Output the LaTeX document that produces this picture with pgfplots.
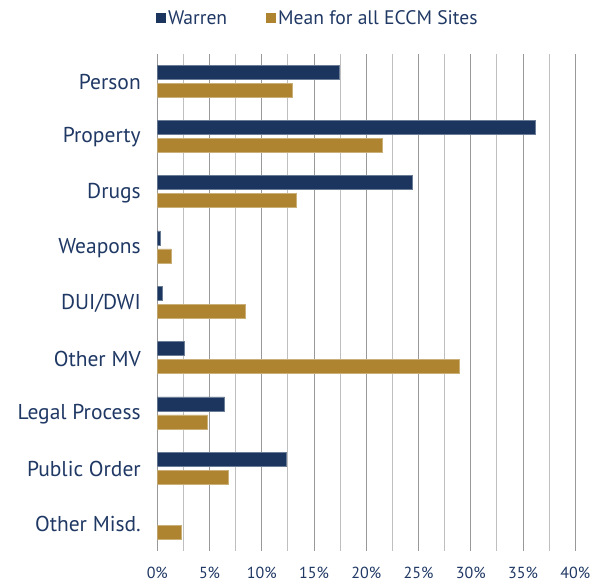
\documentclass[border=0pt]{standalone}
\usepackage{pgfplots}
\pgfplotsset{compat=1.18}
\usepackage{fontspec}
\setmainfont{PT Sans}
\definecolor{navy}{HTML}{1C355E}
\definecolor{gold}{HTML}{AE8430}
\definecolor{txt}{HTML}{1F3864}
\begin{document}
\begin{tikzpicture}
\useasboundingbox (-157.3pt,-32pt) rectangle (434.7pt,551pt);
\begin{axis}[
 scale only axis, width=418pt, height=497.5pt,
 xmin=0, xmax=40, ymin=-0.5, ymax=8.5,
 xbar, bar width=14pt,
 axis line style={draw=none},
 xtick={0,5,...,40}, minor xtick={2.5,7.5,...,37.5},
 xmajorgrids, xminorgrids,
 major grid style={gray!80, line width=0.9pt},
 minor grid style={gray!50, line width=1pt},
 major tick length=0pt, minor tick length=0pt,
 ytick={0,...,8},
 yticklabels={Other Misd., Public Order, Legal Process, Other MV, DUI/DWI, Weapons, Drugs, Property, Person},
 xticklabel={\pgfmathprintnumber{\tick}\%},
 /pgf/number format/assume math mode=true,
 ticklabel style={text=txt},
 yticklabel style={font=\fontsize{21.5}{25}\selectfont, xshift=-13pt, yshift=-1pt},
 xticklabel style={font=\fontsize{16}{19}\selectfont, yshift=-13pt},
 legend columns=2,
 legend style={at={(0.384,1.071)}, anchor=center, draw=none, fill=none,
   font=\fontsize{19.6}{24}\selectfont, text=txt,
   /tikz/every even column/.append style={column sep=37pt}},
 legend cell align=left,
 legend image code/.code={\fill[#1,draw=none] (0pt,-5pt) rectangle (10pt,5pt);},
]
\addplot[fill=navy, draw=navy!65!white, line width=0.5pt, bar shift=9pt] coordinates {
 (17.4,8) (36.2,7) (24.4,6) (0.3,5) (0.5,4) (2.6,3) (6.45,2) (12.3,1)};
\addplot[fill=gold, draw=gold!65!white, line width=0.5pt, bar shift=-9pt] coordinates {
 (12.95,8) (21.5,7) (13.3,6) (1.35,5) (8.45,4) (28.9,3) (4.8,2) (6.75,1) (2.25,0)};
\legend{Warren, Mean for all ECCM Sites}
\end{axis}
\end{tikzpicture}
\end{document}
